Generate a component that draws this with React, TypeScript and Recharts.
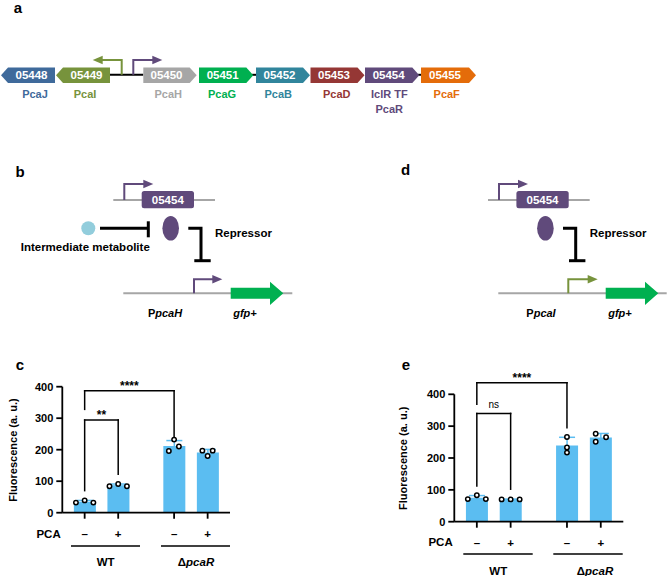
import React from "react";
import {
  ComposedChart,
  Bar,
  Scatter,
  XAxis,
  YAxis,
  ReferenceLine,
  ErrorBar,
} from "recharts";

// ---- data ----
const pcaLabels = ["–", "+", "–", "+"];
const yTicks = [0, 100, 200, 300, 400];

// panel c (PpcaH-gfp+)
const cMeans = [35, 87, 212, 191];
const cSd = [4, 4, 17, 10];
const cPoints = [
  [32, 39, 32],
  [84, 91, 84],
  [196, 232, 210],
  [197, 180, 197],
];
const cBrackets = [
  { from: 0, to: 2, y: 387, left: 328, right: 241, label: "****" },
  { from: 0, to: 1, y: 294, left: 70, right: 122, label: "**" },
];

// panel e (PpcaI-gfp+)
const eMeans = [75, 70, 239, 264];
const eSd = [7, 1, 26, 13];
const ePoints = [
  [71, 83, 71],
  [70, 70, 70],
  [266, 233, 217],
  [276, 251, 265],
];
const eBrackets = [
  { from: 0, to: 2, y: 436, left: 369, right: 295, label: "****" },
  { from: 0, to: 1, y: 340, left: 112, right: 102, label: "ns" },
];

// gene cluster (panel a)
const geneIds = ["05448", "05449", "05450", "05451", "05452", "05453", "05454", "05455"];
const geneNames = ["PcaJ", "PcaI", "PcaH", "PcaG", "PcaB", "PcaD", "IclR TF", "PcaF"];
const geneColors = ["#3F6A9B", "#77933C", "#A6A6A6", "#00B050", "#31859C", "#953735", "#604A7B", "#E46C0A"];

// ---- layout ----
const SLOT = [0, 3, 8, 11];
const cJitter = [[-0.78, 0, 0.78], [-0.78, 0, 0.78], [-0.47, 0, 0.43], [-0.47, 0, 0.45]];
const eJitter = [[-0.8, 0, 0.8], [-0.8, 0, 0.8], [0, 0, 0], [-0.45, -0.45, 0.47]];
const geneSpans = [[1, 55], [56, 110], [143.3, 196.7], [199, 253.3], [256, 310], [310.5, 364.5], [365, 419.3], [421, 476]];
const geneDir = [-1, -1, 1, 1, 1, 1, 1, 1];
const geneLabelX = [35, 85, 168.3, 222, 278.3, 336.7, 389.3, 446.7];

const BAR = "#5BBDF1";
const FONT = "'Liberation Sans', Arial, Helvetica, sans-serif";
const PURPLE = "#604A7B";
const OLIVE = "#77933C";
const GREY = "#A6A6A6";

const Dot = (p: any) => (
  <circle cx={p.cx} cy={p.cy} r={2.2} fill="#fff" stroke="#000" strokeWidth={1.5} />
);

function FluorChart({ means, sd, points, jitter, brackets, width, height, margin }: any) {
  const bars = means.map((m: number, i: number) => ({ x: SLOT[i], mean: m, sd: sd[i] }));
  const dots = points.flatMap((vals: number[], i: number) =>
    vals.map((v, j) => ({ x: SLOT[i] + jitter[i][j], v }))
  );
  const axisStyle = { stroke: "#000", strokeWidth: 1.8 };
  return (
    <ComposedChart width={width} height={height} data={bars} margin={margin}>
      <XAxis
        type="number"
        dataKey="x"
        domain={[-2, 13]}
        ticks={SLOT}
        interval={0}
        allowDataOverflow
        tickFormatter={(v: number) => pcaLabels[SLOT.indexOf(v)] ?? ""}
        height={30}
        tickSize={6}
        tickMargin={11}
        axisLine={axisStyle}
        tickLine={axisStyle}
        tick={{ fill: "#000", fontSize: 11.5, fontWeight: 700 }}
      />
      <XAxis xAxisId="pts" type="number" dataKey="x" domain={[-2, 13]} allowDataOverflow hide />
      <YAxis
        type="number"
        domain={[0, 400]}
        ticks={yTicks}
        interval={0}
        width={40}
        tickSize={6}
        tickMargin={3}
        axisLine={axisStyle}
        tickLine={axisStyle}
        tick={{ fill: "#000", fontSize: 11, fontWeight: 700 }}
      />
      <Bar dataKey="mean" fill={BAR} barSize={22} isAnimationActive={false}>
        <ErrorBar dataKey="sd" width={8} stroke={BAR} strokeWidth={1.5} direction="y" />
      </Bar>
      <Scatter xAxisId="pts" data={dots} dataKey="v" shape={Dot} isAnimationActive={false} />
      {brackets.map((b: any, k: number) => {
        const line = { stroke: "#000", strokeWidth: 1.5, ifOverflow: "visible" as const, strokeLinecap: "square" as const };
        const isNs = b.label === "ns";
        return (
          <React.Fragment key={k}>
            <ReferenceLine
              {...line}
              segment={[{ x: SLOT[b.from], y: b.y }, { x: SLOT[b.to], y: b.y }]}
              label={{
                value: b.label,
                position: "top",
                offset: isNs ? 5 : 1,
                fill: "#000",
                fontSize: isNs ? 10 : 12,
                fontWeight: isNs ? 400 : 700,
              }}
            />
            <ReferenceLine {...line} segment={[{ x: SLOT[b.from], y: b.y }, { x: SLOT[b.from], y: b.left }]} />
            <ReferenceLine {...line} segment={[{ x: SLOT[b.to], y: b.y }, { x: SLOT[b.to], y: b.right }]} />
          </React.Fragment>
        );
      })}
    </ComposedChart>
  );
}

function gene(x0: number, x1: number, dir: number) {
  const y0 = 67.5, y1 = 83, ym = (y0 + y1) / 2, tip = 7;
  if (dir > 0) return `M${x0},${y0} H${x1 - tip} L${x1},${ym} L${x1 - tip},${y1} H${x0} Z`;
  return `M${x1},${y0} H${x0 + tip} L${x0},${ym} L${x0 + tip},${y1} H${x1} Z`;
}

function Promoter({ x, base, top, tip, dir, color }: any) {
  return (
    <g>
      <path d={`M${x},${base} V${top} H${tip - dir * 9}`} stroke={color} strokeWidth={2} fill="none" />
      <path d={`M${tip},${top} L${tip - dir * 10},${top - 4.2} L${tip - dir * 10},${top + 4.2} Z`} fill={color} />
    </g>
  );
}

function Gfp({ x0 }: { x0: number }) {
  const yc = 293.3;
  return (
    <path
      d={`M${x0},${yc - 5.5} H${x0 + 39.3} V${yc - 11.6} L${x0 + 52.6},${yc} L${x0 + 39.3},${yc + 11.6} V${yc + 5.5} H${x0} Z`}
      fill="#00B050"
    />
  );
}

function Circuit({ dx, showMetabolite }: any) {
  const t = { fontSize: 11.5, fontWeight: 700, fill: "#000" };
  return (
    <g transform={`translate(${dx},0)`}>
      <line x1={113.3} y1={200} x2={215} y2={200} stroke={GREY} strokeWidth={2} />
      <Promoter x={124.3} base={200} top={184} tip={153.3} dir={1} color={PURPLE} />
      <rect x={141.7} y={191} width={52.3} height={17.3} rx={2.5} fill={PURPLE} />
      <text x={167.8} y={203.8} textAnchor="middle" fill="#fff" fontSize={11.5} fontWeight={700}>05454</text>
      <ellipse cx={170.7} cy={228.3} rx={8.3} ry={12.3} fill={PURPLE} />
      <path d="M188.3,228.3 H201 V260.7" stroke="#000" strokeWidth={3} fill="none" />
      <path d="M194.3,260.7 H210.7" stroke="#000" strokeWidth={3} />
      <text x={215} y={236.8} {...t}>Repressor</text>
      {showMetabolite && (
        <g>
          <circle cx={88.3} cy={228.3} r={7} fill="#92CDDC" />
          <path d="M100,228.3 H148.3" stroke="#000" strokeWidth={3} />
          <path d="M148.3,221.3 V237.3" stroke="#000" strokeWidth={3} />
          <text x={20.7} y={251.3} {...t}>Intermediate metabolite</text>
        </g>
      )}
    </g>
  );
}

export default function App() {
  const bold = { fontWeight: 700, fill: "#000" };
  return (
    <div style={{ position: "absolute", left: 0, top: 0, width: 667, height: 576, background: "#fff", fontFamily: FONT }}>
      <div style={{ position: "absolute", left: 0, top: 340 }}>
        <FluorChart
          means={cMeans}
          sd={cSd}
          points={cPoints}
          jitter={cJitter}
          brackets={cBrackets}
          width={250}
          height={220}
          margin={{ top: 46.7, right: 20, bottom: 17.3, left: 22.3 }}
        />
      </div>
      <div style={{ position: "absolute", left: 390, top: 340 }}>
        <FluorChart
          means={eMeans}
          sd={eSd}
          points={ePoints}
          jitter={eJitter}
          brackets={eBrackets}
          width={250}
          height={230}
          margin={{ top: 54.3, right: 16.7, bottom: 18.3, left: 24.3 }}
        />
      </div>

      <svg
        width={667}
        height={576}
        style={{ position: "absolute", left: 0, top: 0, pointerEvents: "none", fontFamily: FONT }}
      >
        {/* panel letters */}
        <text x={18} y={13} textAnchor="middle" fontSize={15} {...bold}>a</text>
        <text x={20} y={177} textAnchor="middle" fontSize={15} {...bold}>b</text>
        <text x={405.7} y={175} textAnchor="middle" fontSize={15} {...bold}>d</text>
        <text x={20} y={370} textAnchor="middle" fontSize={15} {...bold}>c</text>
        <text x={406} y={370} textAnchor="middle" fontSize={15} {...bold}>e</text>

        {/* panel a: gene cluster */}
        <path d="M110,74.8 H143.3" stroke="#000" strokeWidth={2} />
        <path d="M252,74.8 H257" stroke="#000" strokeWidth={2} />
        <path d="M418,74.8 H422" stroke="#000" strokeWidth={2} />
        <Promoter x={121.7} base={74.8} top={60} tip={92.7} dir={-1} color={OLIVE} />
        <Promoter x={133.3} base={74.8} top={60} tip={162.3} dir={1} color={PURPLE} />
        {geneIds.map((id, i) => {
          const [x0, x1] = geneSpans[i];
          const bodyC = geneDir[i] > 0 ? (x0 + x1 - 7) / 2 : (x0 + 7 + x1) / 2;
          return (
            <g key={id}>
              <path d={gene(x0, x1, geneDir[i])} fill={geneColors[i]} />
              <text x={bodyC} y={79.4} textAnchor="middle" fill="#fff" fontSize={11.5} fontWeight={700}>{id}</text>
              <text x={geneLabelX[i]} y={97.6} textAnchor="middle" fill={geneColors[i]} fontSize={11} fontWeight={700}>
                {geneNames[i]}
              </text>
            </g>
          );
        })}
        <text x={geneLabelX[6]} y={113.4} textAnchor="middle" fill={geneColors[6]} fontSize={11} fontWeight={700}>PcaR</text>

        {/* panel b */}
        <Circuit dx={0} showMetabolite />
        <line x1={123.3} y1={293.3} x2={292.3} y2={293.3} stroke={GREY} strokeWidth={2} />
        <Promoter x={194} base={293.3} top={279.3} tip={222.3} dir={1} color={PURPLE} />
        <Gfp x0={230.7} />
        <text x={165} y={317.3} textAnchor="middle" fontSize={11} {...bold}>
          P<tspan fontStyle="italic">pcaH</tspan>
        </text>
        <text x={245} y={316.5} textAnchor="middle" fontSize={11} fontStyle="italic" {...bold}>gfp+</text>

        {/* panel d */}
        <Circuit dx={374.7} />
        <line x1={498.3} y1={293.3} x2={666.7} y2={293.3} stroke={GREY} strokeWidth={2} />
        <Promoter x={568.3} base={293.3} top={279.3} tip={597.7} dir={1} color={OLIVE} />
        <Gfp x0={605.7} />
        <text x={541} y={317.3} textAnchor="middle" fontSize={11} {...bold}>
          P<tspan fontStyle="italic">pcaI</tspan>
        </text>
        <text x={620} y={316.5} textAnchor="middle" fontSize={11} fontStyle="italic" {...bold}>gfp+</text>

        {/* panel c annotations */}
        <text transform="translate(16.6,450) rotate(-90)" textAnchor="middle" fontSize={11} {...bold}>
          Fluorescence (a. u.)
        </text>
        <text x={60.7} y={538.1} textAnchor="end" fontSize={11.5} {...bold}>PCA</text>
        <line x1={71} y1={546} x2={140} y2={546} stroke="#000" strokeWidth={1.3} />
        <line x1={161} y1={546} x2={230} y2={546} stroke="#000" strokeWidth={1.3} />
        <text x={105.7} y={566.2} textAnchor="middle" fontSize={11.5} {...bold}>WT</text>
        <text x={196} y={566.2} textAnchor="middle" fontSize={11.5} {...bold}>
          Δ<tspan fontStyle="italic">pcaR</tspan>
        </text>

        {/* panel e annotations */}
        <text transform="translate(406.6,458.3) rotate(-90)" textAnchor="middle" fontSize={11} {...bold}>
          Fluorescence (a. u.)
        </text>
        <text x={452.7} y={546.3} textAnchor="end" fontSize={11.5} {...bold}>PCA</text>
        <line x1={463.3} y1={554} x2={532.7} y2={554} stroke="#000" strokeWidth={1.3} />
        <line x1={553.3} y1={554} x2={622.7} y2={554} stroke="#000" strokeWidth={1.3} />
        <text x={498.3} y={575} textAnchor="middle" fontSize={11.5} {...bold}>WT</text>
        <text x={595} y={575} textAnchor="middle" fontSize={11.5} {...bold}>
          Δ<tspan fontStyle="italic">pcaR</tspan>
        </text>
      </svg>
    </div>
  );
}
